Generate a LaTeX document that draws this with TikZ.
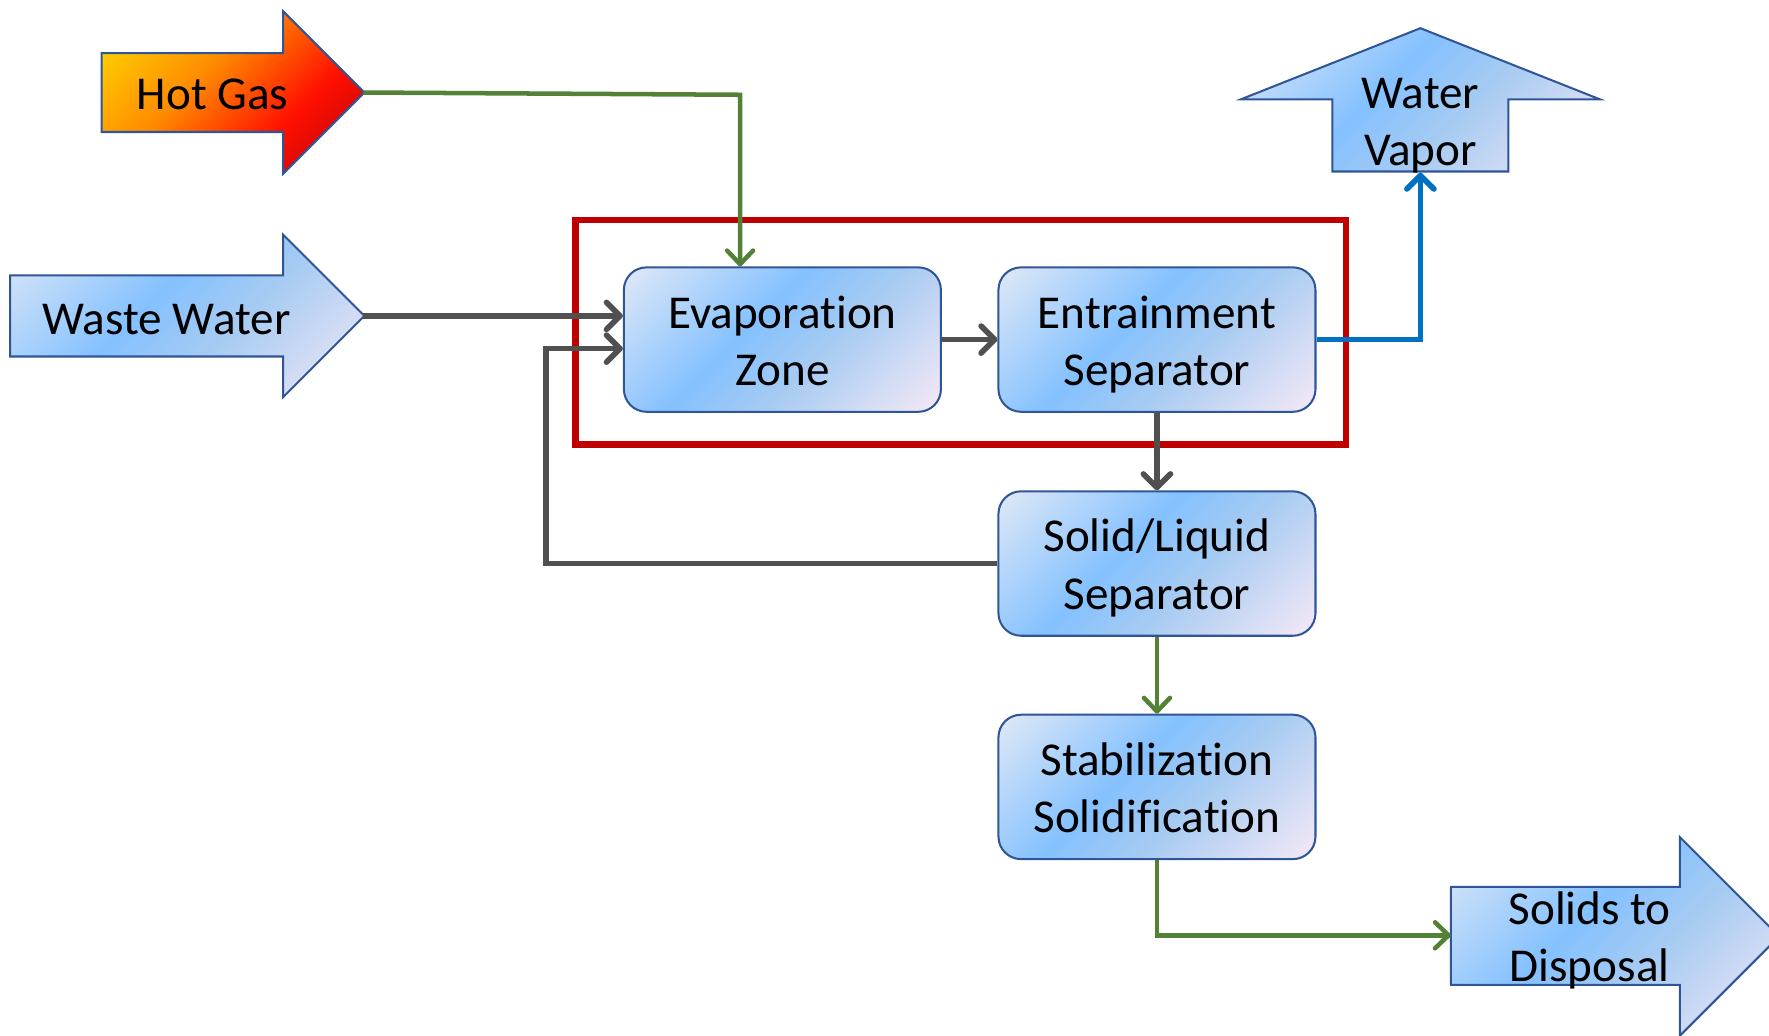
\documentclass[tikz,border=0pt]{standalone}
\usepackage{fontspec}
\setmainfont{Carlito}[Ligatures=NoCommon, Contextuals=NoAlternate]
\usetikzlibrary{arrows.meta}
\definecolor{bA}{HTML}{DCE7F7}
\definecolor{bB}{HTML}{84C1FF}
\definecolor{bC}{HTML}{A6CBF2}
\definecolor{bD}{HTML}{F2E8F6}
\definecolor{hA}{HTML}{FFD800}
\definecolor{hB}{HTML}{FF8A00}
\definecolor{hC}{HTML}{FF1000}
\definecolor{hD}{HTML}{B80000}
\definecolor{edgeblue}{HTML}{2F5597}
\definecolor{flowgreen}{HTML}{538135}
\definecolor{flowgray}{HTML}{505050}
\definecolor{flowblue}{HTML}{0070C0}
\definecolor{framered}{HTML}{C00000}
\pgfdeclarehorizontalshading{boxsh}{100bp}{color(0bp)=(bA); color(16bp)=(bA); color(43bp)=(bB); color(58bp)=(bC); color(84bp)=(bD); color(100bp)=(bD)}
\pgfdeclarehorizontalshading{hotsh}{100bp}{color(0bp)=(hA); color(18bp)=(hA); color(42bp)=(hB); color(64bp)=(hC); color(84bp)=(hD); color(100bp)=(hD)}
\newcommand{\ls}{\rule[-0.18em]{0pt}{1.08em}}
\tikzset{
  lbl/.style={font=\fontsize{41.8}{50.6}\selectfont, align=center, inner sep=0pt},
  box/.style={lbl, draw=edgeblue, line width=1.8pt, rounded corners=20pt,
    minimum width=281pt, minimum height=128pt, shade, shading=boxsh, shading angle=-45},
  bigarrow/.style={draw=edgeblue, line width=1.8pt, shade, shading=boxsh, shading angle=-45},
  hotarrow/.style={draw=edgeblue, line width=1.8pt, shade, shading=hotsh, shading angle=-45},
  greenflow/.style={draw=flowgreen, line width=4pt, -{Straight Barb[length=12pt,width=23pt,round]}},
  grayflow/.style={draw=flowgray, line width=5pt, -{Straight Barb[length=12pt,width=24pt,round]}},
  blueflow/.style={draw=flowblue, line width=5pt, -{Straight Barb[length=12pt,width=24pt,round]}},
}
\begin{document}
\begin{tikzpicture}[x=1pt,y=1pt]
\clip (0,0) rectangle (1568,-918);
% big arrows
\path[hotarrow] (90,-47) -- (251,-47) -- (251,-10) -- (323,-82) -- (251,-154) -- (251,-117) -- (90,-117) -- cycle;
\path[bigarrow] (9,-244) -- (251,-244) -- (251,-208) -- (323,-280) -- (251,-352) -- (251,-316) -- (9,-316) -- cycle;
\path[bigarrow] (1181,-152) -- (1181,-88) -- (1100,-88) -- (1259,-25) -- (1418,-88) -- (1337,-88) -- (1337,-152) -- cycle;
\path[bigarrow] (1286,-786) -- (1489,-786) -- (1489,-742) -- (1577,-830) -- (1489,-918) -- (1489,-873) -- (1286,-873) -- cycle;
\node[lbl] (hot) at (188.5,-82) {\ls Hot Gas};
\node[lbl] (ww) at (147.5,-281) {\ls Waste Water};
\node[lbl] (wv) at (1259,-106) {\ls Water\\\ls Vapor};
\node[lbl] (sd) at (1409,-829.5) {\ls Solids to\\\ls Disposal};
\coordinate (hottip) at (322,-82);
\coordinate (wwtip) at (322,-280);
\coordinate (wvbase) at (1259,-153);
\coordinate (sdbase) at (1286,-829);
% red frame
\node[draw=framered, line width=6pt, minimum width=683pt, minimum height=199pt, inner sep=0pt] (zone) at (851.5,-294.5) {};
% boxes
\node[box] (evap) at (693.5,-301) {\ls Evaporation\\\ls Zone};
\node[box] (entr) at (1025.5,-301) {\ls Entrainment\\\ls Separator};
\node[box] (sol) at (1025.5,-499.5) {\ls Solid/Liquid\\\ls Separator};
\node[box] (stab) at (1025.5,-697.5) {\ls Stabilization\\\ls Solidification};
% connectors
\coordinate (hgturn) at (656,-84);
\coordinate (loop) at (484,-309);
\draw[greenflow] (hottip) -- (hgturn) -- (hgturn |- evap.north);
\draw[grayflow] (wwtip) -- (wwtip -| evap.west);
\draw[grayflow] (sol.west) -| (loop) -- (loop -| evap.west);
\draw[grayflow] (evap.east) -- (entr.west);
\draw[grayflow] (entr.south) -- (sol.north);
\draw[blueflow] (entr.east) -| (wvbase);
\draw[greenflow] (sol.south) -- (stab.north);
\draw[greenflow] (stab.south) |- (sdbase);
\end{tikzpicture}
\end{document}
